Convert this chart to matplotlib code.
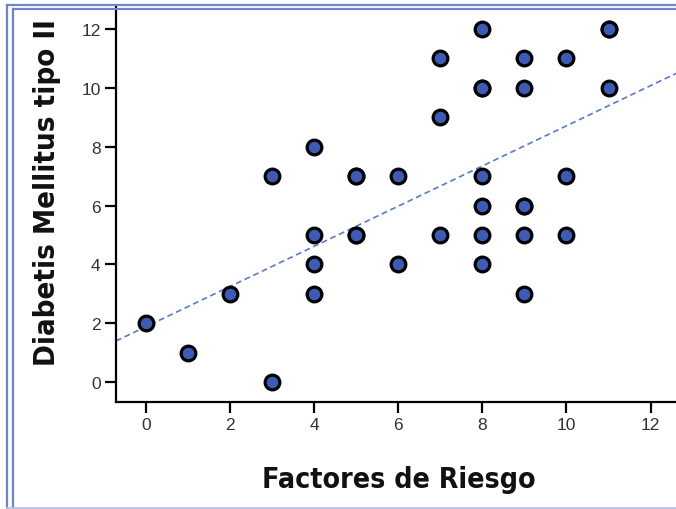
import matplotlib
matplotlib.use("Agg")
import matplotlib.pyplot as plt
from matplotlib.lines import Line2D
from matplotlib import font_manager as fm
import numpy as np

# Data (duplicates where markers look overdrawn)
factores = [0, 1, 2, 3, 3, 4, 4, 4, 4, 5, 5, 5, 5, 6, 6, 7, 7, 7,
            8, 8, 8, 8, 8, 8, 8, 9, 9, 9, 9, 9, 9, 10, 10, 10, 11, 11, 11]
diabetes = [2, 1, 3, 7, 0, 8, 5, 4, 3, 7, 7, 5, 5, 7, 4, 11, 9, 5,
            12, 10, 10, 7, 6, 5, 4, 11, 10, 6, 6, 5, 3, 11, 7, 5, 12, 12, 10]
fit_intercept = 1.88
fit_slope = 0.683
x_ticks = [0, 2, 4, 6, 8, 10, 12]
y_ticks = [0, 2, 4, 6, 8, 10, 12]
x_label = "Factores de Riesgo"
y_label = "Diabetis Mellitus tipo II"

cond = [f for f in fm.fontManager.ttflist if "DejaVu" in f.name and "ondensed" in (f.fname + f.name) and f.weight in ("bold", 700)]
if cond:
    lab_fp = dict(fontproperties=fm.FontProperties(fname=cond[0].fname))
    xs_size, ys_size = 20.4, 21.1
else:
    lab_fp = dict(family="Liberation Sans", fontweight="bold")
    xs_size, ys_size = 21.3, 22.3

fig = plt.figure(figsize=(6.76, 5.10), dpi=100)
W, H = 676, 510
ax = fig.add_axes([116 / W, 1 - 403 / H, (680 - 116) / W, (403 - 8) / H])
x0, x1 = -0.71, 12.7
y0, y1 = -0.68, 12.75
ax.set_xlim(x0, x1)
ax.set_ylim(y0, y1)

xs = np.array([x0, x1])
ax.plot(xs, fit_intercept + fit_slope * xs, linestyle=(0, (3.5, 2.2)), color="#5a78d0",
        linewidth=1.2, zorder=2)
ax.scatter(factores, diabetes, s=112, c="#3d5bb5", edgecolors="black",
           linewidths=2.3, zorder=3, clip_on=False)

ax.spines["top"].set_visible(False)
ax.spines["right"].set_visible(False)
for s in ("left", "bottom"):
    ax.spines[s].set_linewidth(1.6)
ax.set_xticks(x_ticks)
ax.set_yticks(y_ticks)
ax.tick_params(axis="both", length=8, width=1.6, labelsize=12.5, colors="black",
               pad=3)
for lab in ax.get_xticklabels() + ax.get_yticklabels():
    lab.set_family("Liberation Sans")
    lab.set_color("#333333")
xl = ax.set_xlabel(x_label, **lab_fp)
yl = ax.set_ylabel(y_label, **lab_fp)
xl.set_fontsize(xs_size)
yl.set_fontsize(ys_size)
xl.set_color("#111111")
yl.set_color("#111111")
ax.xaxis.set_label_coords(0.501, -0.160)
ax.yaxis.set_label_coords(-0.098, 0.532)

frame_col = "#6f86c8"
def fline(xa, ya, lw, col=frame_col):
    fig.add_artist(Line2D(np.array(xa) / W, 1 - np.array(ya) / H, color=col,
                          linewidth=lw, transform=fig.transFigure))
fline([7, 7], [5.5, 510], 1.6)
fline([12.5, 12.5], [10, 510], 1.6)
fline([7, 676], [5.5, 5.5], 1.6)
fline([12.5, 676], [10, 10], 1.6)
fline([7, 676], [508.5, 508.5], 1.2, "#b8c4e6")

fig.savefig("out.png", dpi=100)
